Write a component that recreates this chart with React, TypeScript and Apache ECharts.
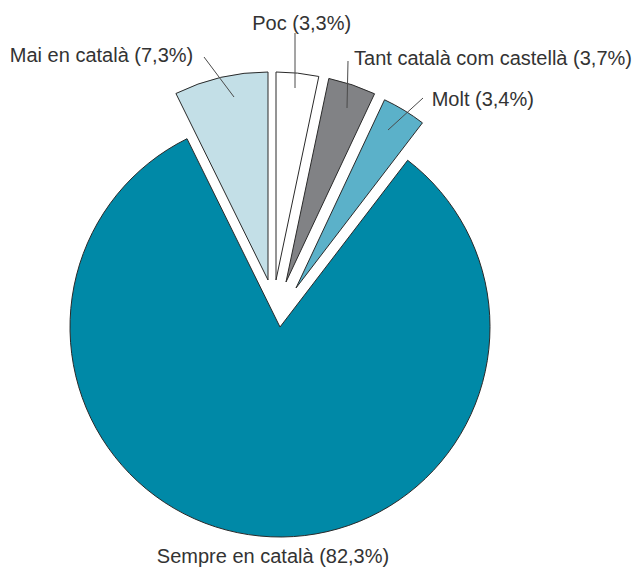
import React, { useEffect, useRef } from "react";
import * as echarts from "echarts";

// ---- data ----
const categories = ["Poc", "Tant català com castellà", "Molt", "Sempre en català", "Mai en català"];
const percentages = [3.3, 3.7, 3.4, 82.3, 7.3];
const sliceColors = ["#ffffff", "#818285", "#5BB1C9", "#0089A7", "#C3DFE7"];

// ---- layout (exploded pie: each slice drawn from its own vertex) ----
const sliceVertex: number[][] = [[276, 280], [286, 282], [296, 288], [280, 327], [268, 280]];
const sliceRadius = [208, 208, 208, 210, 208];
const labelPos: number[][] = [[301.7, 23], [493, 57.5], [482.8, 98.7], [273, 556], [101.5, 55]];
const leaderLines: (number[][] | null)[] = [
  [[295, 33], [295, 88]],
  [[348, 61], [347, 108]],
  [[423, 98], [388, 130]],
  null,
  [[204, 57], [234, 97]],
];

const fmt = (name: string, v: number) => `${name} (${v.toFixed(1).replace(".", ",")}%)`;

export default function App() {
  const ref = useRef<HTMLDivElement>(null);
  useEffect(() => {
    if (!ref.current) return;
    const chart = echarts.init(ref.current, undefined, { renderer: "svg" });
    const series = categories.map((_, i) => ({
      type: "pie",
      center: sliceVertex[i],
      radius: [0, sliceRadius[i]],
      startAngle: 90,
      clockwise: true,
      avoidLabelOverlap: false,
      silent: true,
      emphasis: { disabled: true },
      z: 2,
      labelLine: { show: false },
      data: categories.map((name, j) =>
        j === i
          ? {
              name,
              value: percentages[j],
              itemStyle: { color: sliceColors[j], borderColor: "#2a2a2a", borderWidth: 1 },
              label: {
                show: true,
                position: "outside",
                formatter: fmt(name, percentages[j]),
                fontFamily: "Liberation Sans, Arial, sans-serif",
                fontSize: 20,
                color: "#333333",
              },
              labelLine: { show: false },
            }
          : {
              name,
              value: percentages[j],
              itemStyle: { color: "transparent", borderWidth: 0 },
              label: { show: false },
              labelLine: { show: false },
            }
      ),
      labelLayout: (p: any) => {
        if (p.dataIndex !== i) return {};
        return {
          x: labelPos[i][0],
          y: labelPos[i][1],
          align: "center",
          verticalAlign: "middle",
        };
      },
    }));
    const graphic = leaderLines
      .filter((l) => l != null)
      .map((l) => ({
        type: "line",
        silent: true,
        z: 10,
        shape: { x1: l![0][0], y1: l![0][1], x2: l![1][0], y2: l![1][1] },
        style: { stroke: "#4a4a4a", lineWidth: 1 },
      }));
    chart.setOption({
      animation: false,
      backgroundColor: "#ffffff",
      series,
      graphic,
    });
    return () => chart.dispose();
  }, []);
  return (
    <div
      ref={ref}
      style={{ position: "fixed", left: 0, top: 0, width: 638, height: 567 }}
    />
  );
}
